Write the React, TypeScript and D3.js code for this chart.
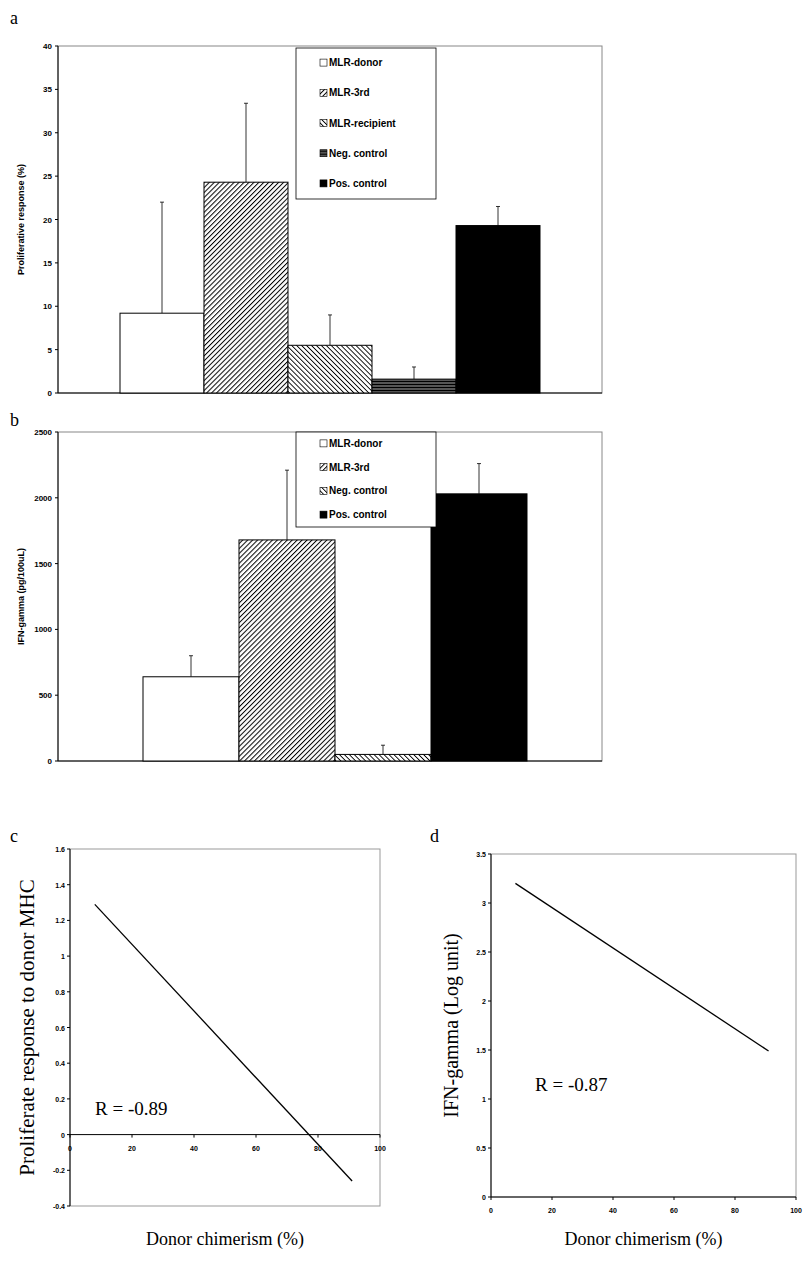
import * as d3 from 'd3';

const groupsA = ['MLR-donor', 'MLR-3rd', 'MLR-recipient', 'Neg. control', 'Pos. control'];
const meansA = [9.2, 24.3, 5.5, 1.6, 19.3];
const topsA = [22, 33.4, 9, 3, 21.5];
const fillsA = ['white', 'url(#fwd)', 'url(#back)', 'url(#horiz)', 'black'];

const groupsB = ['MLR-donor', 'MLR-3rd', 'Neg. control', 'Pos. control'];
const meansB = [640, 1680, 50, 2030];
const topsB = [800, 2210, 120, 2260];
const fillsB = ['white', 'url(#fwd)', 'url(#back)', 'black'];

const ticksA = [0, 5, 10, 15, 20, 25, 30, 35, 40];
const ticksB = [0, 500, 1000, 1500, 2000, 2500];
const ticksCy = [-0.4, -0.2, 0, 0.2, 0.4, 0.6, 0.8, 1, 1.2, 1.4, 1.6];
const ticksDy = [0, 0.5, 1, 1.5, 2, 2.5, 3, 3.5];
const ticksX = [0, 20, 40, 60, 80, 100];
const lineC: [number, number][] = [[8, 1.29], [91, -0.26]];
const lineD: [number, number][] = [[8, 3.2], [91, 1.49]];

const sans = 'Liberation Sans, Arial, sans-serif';
const serif = 'Liberation Serif, Times New Roman, serif';

function BarPanel({ groups, means, tops, fills, ticks, max, top, bottom, barX0, barX1, legendBox, ylabel }: any) {
  const left = 58, right = 602;
  const x = d3.scaleBand<string>().domain(groups).range([barX0, barX1]).padding(0);
  const y = d3.scaleLinear().domain([0, max]).range([bottom, top]);
  const [lx, ly, lw, lh] = legendBox;
  const step = lh / groups.length;
  return (
    <g>
      <rect x={left} y={top} width={right - left} height={bottom - top} fill="none" stroke="#888" strokeWidth={1} />
      <line x1={left} x2={right} y1={bottom} y2={bottom} stroke="#000" />
      <line x1={left} x2={left} y1={top} y2={bottom} stroke="#000" />
      {ticks.map((t: number) => (
        <g key={t}>
          <line x1={left - 3} x2={left} y1={y(t)} y2={y(t)} stroke="#000" />
          <text x={left - 6} y={y(t) + 3} textAnchor="end" fontSize={8} fontWeight="bold" fontFamily={sans}>{t}</text>
        </g>
      ))}
      {groups.map((g: string, i: number) => {
        const bx = x(g)!, bw = x.bandwidth();
        return (
          <g key={g}>
            <line x1={bx + bw / 2} x2={bx + bw / 2} y1={y(means[i])} y2={y(tops[i])} stroke="#000" strokeWidth={0.8} />
            <line x1={bx + bw / 2 - 2} x2={bx + bw / 2 + 2} y1={y(tops[i])} y2={y(tops[i])} stroke="#000" strokeWidth={0.8} />
            <rect x={bx} y={y(means[i])} width={bw} height={bottom - y(means[i])} fill={fills[i]} stroke="#000" strokeWidth={1} />
          </g>
        );
      })}
      <rect x={lx} y={ly} width={lw} height={lh} fill="white" stroke="#000" strokeWidth={0.8} />
      {groups.map((g: string, i: number) => (
        <g key={g} transform={`translate(${lx + 24},${ly + step * (i + 0.5)})`}>
          <rect x={0} y={-4} width={7} height={7} fill={fills[i]} stroke="#000" strokeWidth={0.6} />
          <text x={9} y={3} fontSize={10} fontWeight="bold" fontFamily={sans}>{g}</text>
        </g>
      ))}
      <text transform={`translate(24,${(top + bottom) / 2}) rotate(-90)`} textAnchor="middle" fontSize={9} fontWeight="bold" fontFamily={sans}>{ylabel}</text>
    </g>
  );
}

function LinePanel({ left, right, top, bottom, ydom, yticks, pts, rText, rx, ry, ylabel, ylx, ylSize }: any) {
  const x = d3.scaleLinear().domain([0, 100]).range([left, right]);
  const y = d3.scaleLinear().domain(ydom).range([bottom, top]);
  const y0 = y(0);
  const line = d3.line<[number, number]>().x(d => x(d[0])).y(d => y(d[1]));
  return (
    <g>
      <rect x={left} y={top} width={right - left} height={bottom - top} fill="none" stroke="#999" strokeWidth={1} />
      <line x1={left} x2={left} y1={top} y2={bottom} stroke="#000" />
      <line x1={left} x2={right} y1={y0} y2={y0} stroke="#000" />
      {yticks.map((t: number) => (
        <g key={t}>
          <line x1={left - 3} x2={left} y1={y(t)} y2={y(t)} stroke="#000" />
          <text x={left - 5} y={y(t) + 3} textAnchor="end" fontSize={7} fontWeight="bold" fontFamily={sans}>{t}</text>
        </g>
      ))}
      {ticksX.map(t => (
        <g key={t}>
          <line x1={x(t)} x2={x(t)} y1={y0} y2={y0 + 3} stroke="#000" />
          <text x={x(t)} y={y0 + 16} textAnchor="middle" fontSize={7} fontWeight="bold" fontFamily={sans}>{t}</text>
        </g>
      ))}
      <path d={line(pts) as string} fill="none" stroke="#000" strokeWidth={1.3} />
      <text x={rx} y={ry} fontSize={19} fontFamily={serif}>{rText}</text>
      <text transform={`translate(${ylx},${(top + bottom) / 2}) rotate(-90)`} textAnchor="middle" fontSize={ylSize} fontFamily={serif}>{ylabel}</text>
      <text x={(left + right) / 2} y={1245} textAnchor="middle" fontSize={18} fontFamily={serif}>Donor chimerism (%)</text>
    </g>
  );
}

export default function App() {
  return (
    <svg width={804} height={1265} style={{ position: 'absolute', left: 0, top: 0, background: 'white' }}>
      <defs>
        <pattern id="fwd" width={3.5} height={3.5} patternUnits="userSpaceOnUse" patternTransform="rotate(45)">
          <rect width={3.5} height={3.5} fill="white" />
          <line x1={0} y1={0} x2={0} y2={3.5} stroke="#000" strokeWidth={2} />
        </pattern>
        <pattern id="back" width={3.5} height={3.5} patternUnits="userSpaceOnUse" patternTransform="rotate(-45)">
          <rect width={3.5} height={3.5} fill="white" />
          <line x1={0} y1={0} x2={0} y2={3.5} stroke="#000" strokeWidth={1.8} />
        </pattern>
        <pattern id="horiz" width={3} height={3} patternUnits="userSpaceOnUse">
          <rect width={3} height={3} fill="#555" />
          <line x1={0} y1={0.5} x2={3} y2={0.5} stroke="#000" strokeWidth={1} />
        </pattern>
      </defs>
      <g fontFamily={serif} fontSize={18}>
        <text x={10} y={24}>a</text>
        <text x={10} y={426}>b</text>
        <text x={10} y={842}>c</text>
        <text x={430} y={842}>d</text>
      </g>
      <BarPanel groups={groupsA} means={meansA} tops={topsA} fills={fillsA} ticks={ticksA} max={40}
        top={46} bottom={393} barX0={120} barX1={540} legendBox={[296, 48, 140, 151]} ylabel="Proliferative response (%)" />
      <BarPanel groups={groupsB} means={meansB} tops={topsB} fills={fillsB} ticks={ticksB} max={2500}
        top={432} bottom={761} barX0={143} barX1={527} legendBox={[296, 432, 140, 95]} ylabel="IFN-gamma (pg/100uL)" />
      <LinePanel left={70} right={380} top={849} bottom={1206} ydom={[-0.4, 1.6]} yticks={ticksCy} pts={lineC}
        rText="R = -0.89" rx={95} ry={1115} ylabel="Proliferate response to donor MHC" ylx={34} ylSize={21} />
      <LinePanel left={491} right={796} top={854} bottom={1197} ydom={[0, 3.5]} yticks={ticksDy} pts={lineD}
        rText="R = -0.87" rx={535} ry={1091} ylabel="IFN-gamma (Log unit)" ylx={458} ylSize={20} />
    </svg>
  );
}
